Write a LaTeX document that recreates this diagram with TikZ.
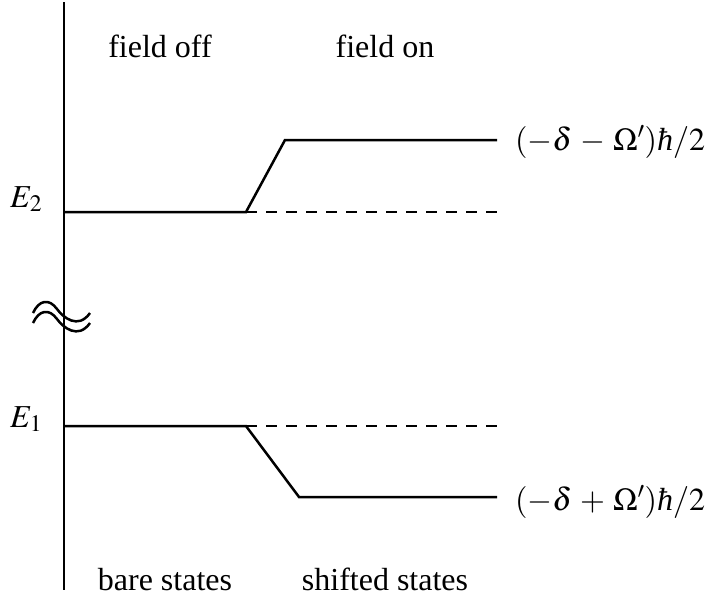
\documentclass[tikz,border=0pt]{standalone}
\usepackage{mathptmx}
\usepackage{fontspec}
\setmainfont{Liberation Serif}
\newcommand{\hb}{\mbox{\itshape ħ}}
\begin{document}
\begin{tikzpicture}[x=1pt,y=-1pt,
  lvl/.style={line width=2.5pt},
  dsh/.style={line width=2.5pt,dash pattern=on 11pt off 9pt},
  lab/.style={font=\fontsize{32}{38}\selectfont,inner sep=0pt},
  wave/.style={line width=2.5pt}]
\medmuskip=4.5mu plus 2mu minus 4mu
\useasboundingbox (0,0) rectangle (709,603);
% axis
\coordinate (atop) at (64,2);
\coordinate (abot) at (64,590);
\draw[line width=2.6pt] (atop) -- (abot);
% break mark
\draw[wave] (33,313) .. controls (39,300) and (49,298) .. (57,309) .. controls (63,317.25) and (78,330) .. (90,313);
\draw[wave] (33,323) .. controls (39,310) and (49,308) .. (57,319) .. controls (63,327.25) and (78,340) .. (90,323);
% coordinates of levels
\coordinate (e2a) at (64,212);
\coordinate (e2b) at (246,212);
\coordinate (e2c) at (497,212);
\coordinate (e2d) at (285,140);
\coordinate (e2e) at (497,140);
\coordinate (e1a) at (64,426);
\coordinate (e1b) at (246,426);
\coordinate (e1c) at (497,426);
\coordinate (e1d) at (299,497);
\coordinate (e1e) at (497,497);
\draw[lvl] (e2a) -- (e2b) -- (e2d) -- (e2e);
\draw[dsh] (e2b) -- (e2c);
\draw[lvl] (e1a) -- (e1b) -- (e1d) -- (e1e);
\draw[dsh] (e1b) -- (e1c);
% labels
\node[lab,anchor=base] (foff) at (160,57) {field off};
\node[lab,anchor=base] (fon) at (385,57) {field on};
\node[lab,anchor=base] (bare) at (165,590) {bare states};
\node[lab,anchor=base] (shift) at (385,590) {shifted states};
\node[lab,anchor=base west] (E2) at (10,207) {$E_2$};
\node[lab,anchor=base west] (E1) at (10,427) {$E_1$};
\node[lab,anchor=base west] (up) at (515,150) {$(-\delta-\Omega')\hb/2$};
\node[lab,anchor=base west] (dn) at (515,510) {$(-\delta+\Omega')\hb/2$};
\end{tikzpicture}
\end{document}
